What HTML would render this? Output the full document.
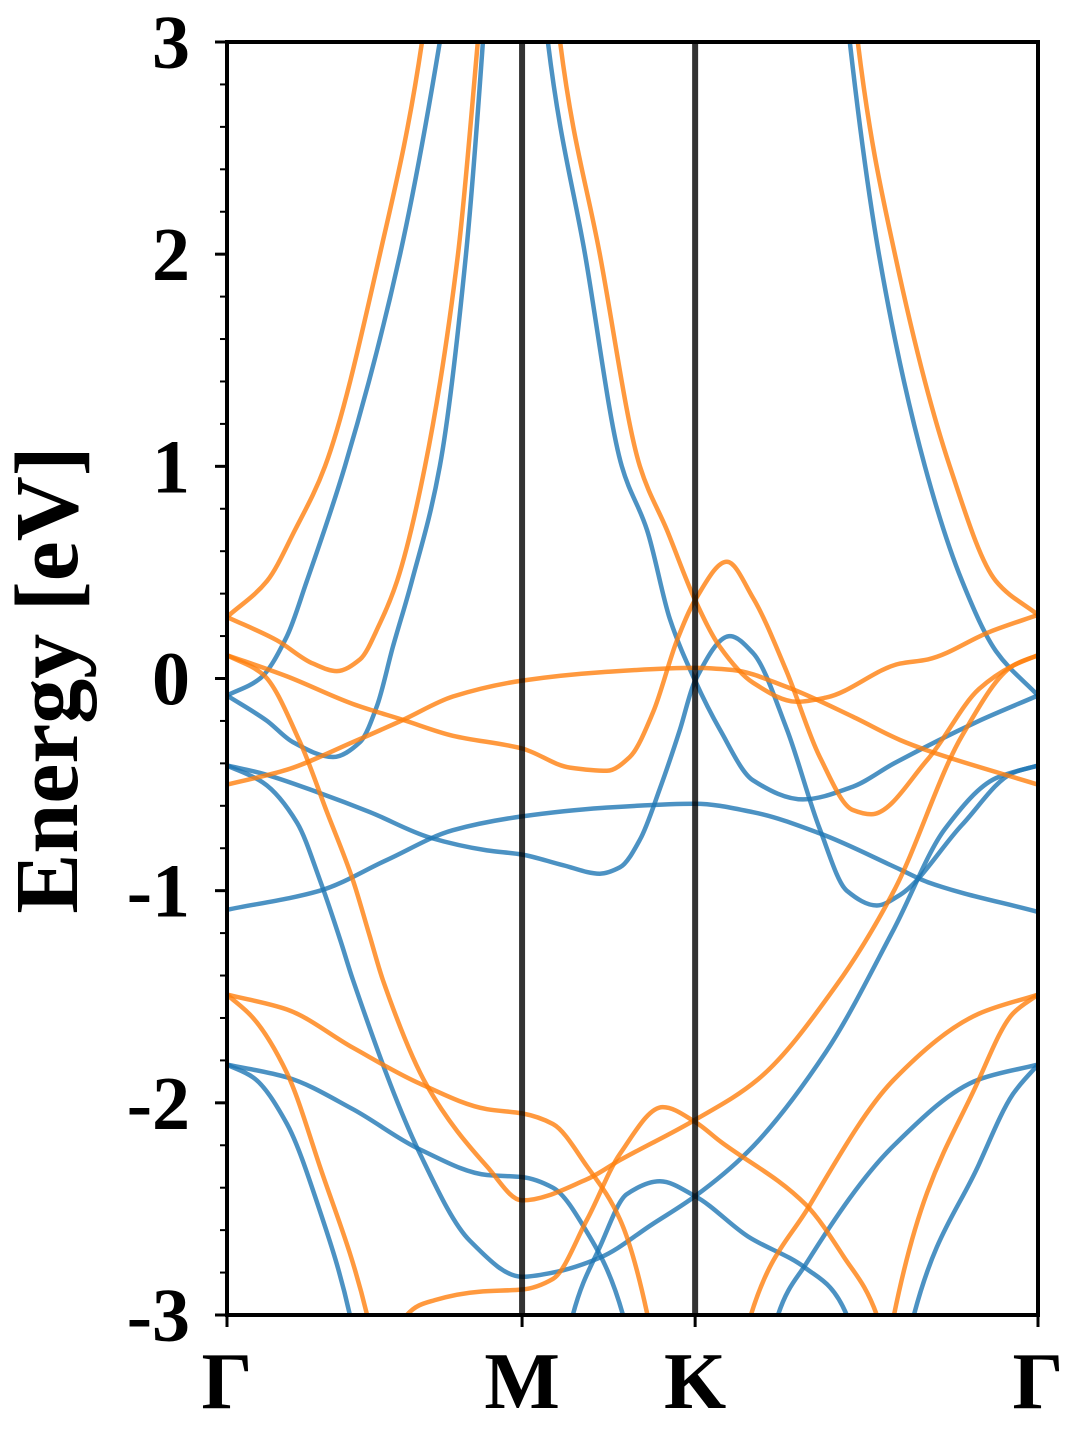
<!DOCTYPE html>
<html><head><meta charset="utf-8"><style>
html,body{margin:0;padding:0;background:#fff;}
svg{display:block;}
text{font-family:"Liberation Serif",serif;font-weight:bold;fill:#000;}
</style></head><body>
<svg id="chart" width="1080" height="1440" viewBox="0 0 1080 1440" xmlns="http://www.w3.org/2000/svg">
<defs><clipPath id="plotClip"><rect x="227" y="42" width="811" height="1273"/></clipPath></defs>
<rect x="0" y="0" width="1080" height="1440" fill="#fff"/>
<g id="bands" clip-path="url(#plotClip)"></g>
<g id="vlines"></g>
<rect x="227" y="42" width="811" height="1273" fill="none" stroke="#000" stroke-width="4"/>
<g id="axes"></g>
<text x="0" y="0" font-size="90" text-anchor="middle" transform="translate(77,680) rotate(-90)">Energy [eV]</text>
</svg>
<script>
const kTicks = [0, 0.994, 1.577, 2.732];
const kLabels = ["Γ", "M", "K", "Γ"];
const eTicks = [-3, -2, -1, 0, 1, 2, 3];
const eTickLabels = ["-3", "-2", "-1", "0", "1", "2", "3"];
const blueBands = [
 [[0,-0.08],[0.111,0.0],[0.202,0.2],[0.269,0.46],[0.397,1.0],[0.583,2.0],[0.717,3.0],[0.76,3.4]],
 [[0,-0.08],[0.135,-0.2],[0.222,-0.30],[0.357,-0.37],[0.448,-0.30],[0.505,-0.13],[0.559,0.15],[0.623,0.46],[0.717,1.0],[0.805,2.0],[0.862,3.0],[0.88,3.4]],
 [[0,-0.41],[0.111,-0.445],[0.313,-0.54],[0.482,-0.63],[0.684,-0.75],[0.876,-0.81],[0.994,-0.83],[1.132,-0.88],[1.256,-0.92],[1.324,-0.89],[1.391,-0.76],[1.458,-0.52],[1.526,-0.24],[1.577,-0.01],[1.694,0.20],[1.772,0.12],[1.886,-0.24],[1.997,-0.71],[2.088,-1.0],[2.189,-1.07],[2.267,-1.02],[2.476,-0.69],[2.647,-0.445],[2.732,-0.41]],
 [[0,-1.09],[0.313,-1.0],[0.539,-0.855],[0.761,-0.715],[0.994,-0.65],[1.266,-0.61],[1.577,-0.59],[1.772,-0.63],[1.997,-0.73],[2.267,-0.90],[2.361,-0.96],[2.732,-1.10]],
 [[0,-0.41],[0.121,-0.49],[0.236,-0.68],[0.313,-0.95],[0.381,-1.23],[0.424,-1.42],[0.650,-2.24],[0.818,-2.65],[0.994,-2.82],[1.098,-2.80],[1.256,-2.73],[1.435,-2.57],[1.577,-2.44],[1.755,-2.23],[2.018,-1.76],[2.247,-1.18],[2.418,-0.71],[2.590,-0.47],[2.732,-0.41]],
 [[1.05,3.5],[1.081,3.0],[1.206,2.0],[1.330,1.0],[1.415,0.70],[1.492,0.28],[1.577,-0.01],[1.660,-0.24],[1.772,-0.48],[1.940,-0.57],[2.108,-0.51],[2.247,-0.40],[2.533,-0.20],[2.732,-0.08]],
 [[2.07,3.4],[2.098,3.0],[2.196,2.0],[2.351,1.0],[2.476,0.46],[2.590,0.13],[2.732,-0.08]],
 [[0,-1.82],[0.088,-1.88],[0.202,-2.10],[0.313,-2.51],[0.414,-3.0],[0.44,-3.2]],
 [[0,-1.82],[0.202,-1.88],[0.424,-2.03],[0.650,-2.22],[0.876,-2.34],[0.994,-2.35],[1.098,-2.40],[1.213,-2.61],[1.334,-3.0],[1.36,-3.2]],
 [[1.14,-3.2],[1.165,-3.0],[1.256,-2.68],[1.347,-2.43],[1.458,-2.37],[1.577,-2.44],[1.755,-2.63],[1.950,-2.78],[2.088,-3.0],[2.11,-3.2]],
 [[1.83,-3.2],[1.856,-3.0],[1.950,-2.76],[2.247,-2.20],[2.533,-1.89],[2.732,-1.82]],
 [[2.29,-3.2],[2.314,-3.0],[2.533,-2.29],[2.647,-1.96],[2.732,-1.82]]
];
const orangeBands = [
 [[0,0.29],[0.135,0.46],[0.229,0.7],[0.330,1.0],[0.515,2.0],[0.657,3.0],[0.69,3.4]],
 [[0,0.29],[0.168,0.18],[0.290,0.07],[0.370,0.035],[0.448,0.09],[0.515,0.26],[0.573,0.46],[0.667,1.0],[0.778,2.0],[0.845,3.0],[0.87,3.4]],
 [[0,0.11],[0.202,0.01],[0.424,-0.12],[0.593,-0.195],[0.761,-0.27],[0.994,-0.33],[1.155,-0.42],[1.280,-0.435],[1.357,-0.37],[1.435,-0.16],[1.516,0.18],[1.577,0.37],[1.684,0.55],[1.772,0.38],[1.886,0.03],[1.997,-0.37],[2.108,-0.62],[2.170,-0.64],[2.361,-0.38],[2.533,-0.05],[2.647,0.06],[2.732,0.11]],
 [[0,0.11],[0.121,0.02],[0.246,-0.30],[0.337,-0.63],[0.424,-0.95],[0.482,-1.22],[0.525,-1.42],[0.674,-1.92],[0.876,-2.30],[0.994,-2.46],[1.213,-2.36],[1.324,-2.27],[1.577,-2.08],[1.788,-1.89],[2.051,-1.45],[2.247,-1.0],[2.476,-0.27],[2.647,0.06],[2.732,0.11]],
 [[0,-0.50],[0.202,-0.43],[0.424,-0.30],[0.593,-0.195],[0.761,-0.085],[0.994,-0.01],[1.266,0.03],[1.577,0.05],[1.704,0.04],[1.886,-0.04],[2.108,-0.18],[2.267,-0.29],[2.361,-0.34],[2.732,-0.50]],
 [[1.09,3.5],[1.122,3.0],[1.256,2.0],[1.391,1.0],[1.482,0.70],[1.577,0.37],[1.660,0.15],[1.772,-0.02],[1.920,-0.11],[2.018,-0.09],[2.267,0.07],[2.361,0.09],[2.570,0.22],[2.732,0.30]],
 [[2.10,3.4],[2.125,3.0],[2.250,2.0],[2.435,1.0],[2.590,0.46],[2.732,0.30]],
 [[0.58,-3.2],[0.606,-3.0],[0.70,-2.93],[0.85,-2.89],[0.994,-2.88],[1.098,-2.83],[1.213,-2.55],[1.324,-2.24],[1.468,-2.02],[1.577,-2.09],[1.660,-2.18],[1.950,-2.48],[2.075,-2.72],[2.189,-3.0],[2.22,-3.2]],
 [[0,-1.49],[0.202,-1.56],[0.424,-1.74],[0.650,-1.91],[0.876,-2.03],[0.994,-2.05],[1.098,-2.10],[1.213,-2.30],[1.324,-2.55],[1.415,-2.99],[1.44,-3.2]],
 [[0,-1.49],[0.088,-1.60],[0.202,-1.86],[0.313,-2.30],[0.472,-3.0],[0.50,-3.2]],
 [[1.74,-3.2],[1.765,-3.0],[1.960,-2.49],[2.247,-1.89],[2.533,-1.58],[2.732,-1.49]],
 [[2.23,-3.2],[2.247,-3.0],[2.533,-1.89],[2.647,-1.58],[2.732,-1.49]]
];
const X0 = 227, X1 = 1038, Y0 = 1315, Y1 = 42;
const kMax = 2.732, eMin = -3, eMax = 3;
function xs(k){ return X0 + (k / kMax) * (X1 - X0); }
function ys(e){ return Y0 - (e - eMin) / (eMax - eMin) * (Y0 - Y1); }
const NS = "http://www.w3.org/2000/svg";
function pathFor(pts){
  const p = pts.map(q => [xs(q[0]), ys(q[1])]);
  const n = p.length;
  const h = [], s = [];
  for (let i = 0; i < n - 1; i++){ h.push(p[i+1][0]-p[i][0]); s.push((p[i+1][1]-p[i][1])/h[i]); }
  const m = new Array(n);
  m[0] = s[0]; m[n-1] = s[n-2];
  for (let i = 1; i < n - 1; i++){
    if (s[i-1]*s[i] <= 0) m[i] = 0;
    else {
      const w1 = 2*h[i] + h[i-1], w2 = h[i] + 2*h[i-1];
      m[i] = (w1 + w2) / (w1 / s[i-1] + w2 / s[i]);
    }
  }
  let d = "M" + p[0][0].toFixed(1) + "," + p[0][1].toFixed(1);
  for (let i = 0; i < n - 1; i++){
    const c1 = [p[i][0] + h[i]/3, p[i][1] + m[i]*h[i]/3];
    const c2 = [p[i+1][0] - h[i]/3, p[i+1][1] - m[i+1]*h[i]/3];
    d += " C" + c1[0].toFixed(1)+","+c1[1].toFixed(1)+" "+c2[0].toFixed(1)+","+c2[1].toFixed(1)+" "+p[i+1][0].toFixed(1)+","+p[i+1][1].toFixed(1);
  }
  return d;
}
const bandsG = document.getElementById("bands");
blueBands.forEach((b) => {
  const el = document.createElementNS(NS, "path");
  el.setAttribute("d", pathFor(b));
  el.setAttribute("fill", "none");
  el.setAttribute("stroke", "rgba(31,119,180,0.8)");
  el.setAttribute("stroke-width", "4.5");
  
  
  bandsG.appendChild(el);
});
orangeBands.forEach((b) => {
  const el = document.createElementNS(NS, "path");
  el.setAttribute("d", pathFor(b));
  el.setAttribute("fill", "none");
  el.setAttribute("stroke", "rgba(255,127,14,0.8)");
  el.setAttribute("stroke-width", "4.5");
  
  
  bandsG.appendChild(el);
});
const vG = document.getElementById("vlines");
kTicks.slice(1, 3).forEach((k) => {
  const l = document.createElementNS(NS, "line");
  l.setAttribute("x1", xs(k)); l.setAttribute("x2", xs(k));
  l.setAttribute("y1", Y1); l.setAttribute("y2", Y0);
  l.setAttribute("stroke", "rgba(0,0,0,0.8)");
  l.setAttribute("stroke-width", "6");
  
  
  vG.appendChild(l);
});
const axG = document.getElementById("axes");
eTicks.forEach((e, i) => {
  const t = document.createElementNS(NS, "line");
  t.setAttribute("x1", X0 - 12); t.setAttribute("x2", X0);
  t.setAttribute("y1", ys(e)); t.setAttribute("y2", ys(e));
  t.setAttribute("stroke", "#000"); t.setAttribute("stroke-width", "3");
  
  
  axG.appendChild(t);
  const tx = document.createElementNS(NS, "text");
  tx.setAttribute("x", 190); tx.setAttribute("y", ys(e) + 26);
  tx.setAttribute("font-size", "76"); tx.setAttribute("text-anchor", "end");
  tx.textContent = eTickLabels[i];
  
  
  axG.appendChild(tx);
});
for (let e = eMin; e < eMax - 0.01; e += 0.2){
  const t = document.createElementNS(NS, "line");
  t.setAttribute("x1", X0 - 7); t.setAttribute("x2", X0);
  t.setAttribute("y1", ys(e)); t.setAttribute("y2", ys(e));
  t.setAttribute("stroke", "#000"); t.setAttribute("stroke-width", "2");
  
  
  axG.appendChild(t);
}
kTicks.forEach((k, i) => {
  const t = document.createElementNS(NS, "line");
  t.setAttribute("x1", xs(k)); t.setAttribute("x2", xs(k));
  t.setAttribute("y1", Y0); t.setAttribute("y2", Y0 + 12);
  t.setAttribute("stroke", "#000"); t.setAttribute("stroke-width", "3");
  
  
  axG.appendChild(t);
  const tx = document.createElementNS(NS, "text");
  tx.setAttribute("x", xs(k)); tx.setAttribute("y", 1408);
  tx.setAttribute("font-size", "80"); tx.setAttribute("text-anchor", "middle");
  tx.textContent = kLabels[i];
  
  
  axG.appendChild(tx);
});
</script>
</body></html>
